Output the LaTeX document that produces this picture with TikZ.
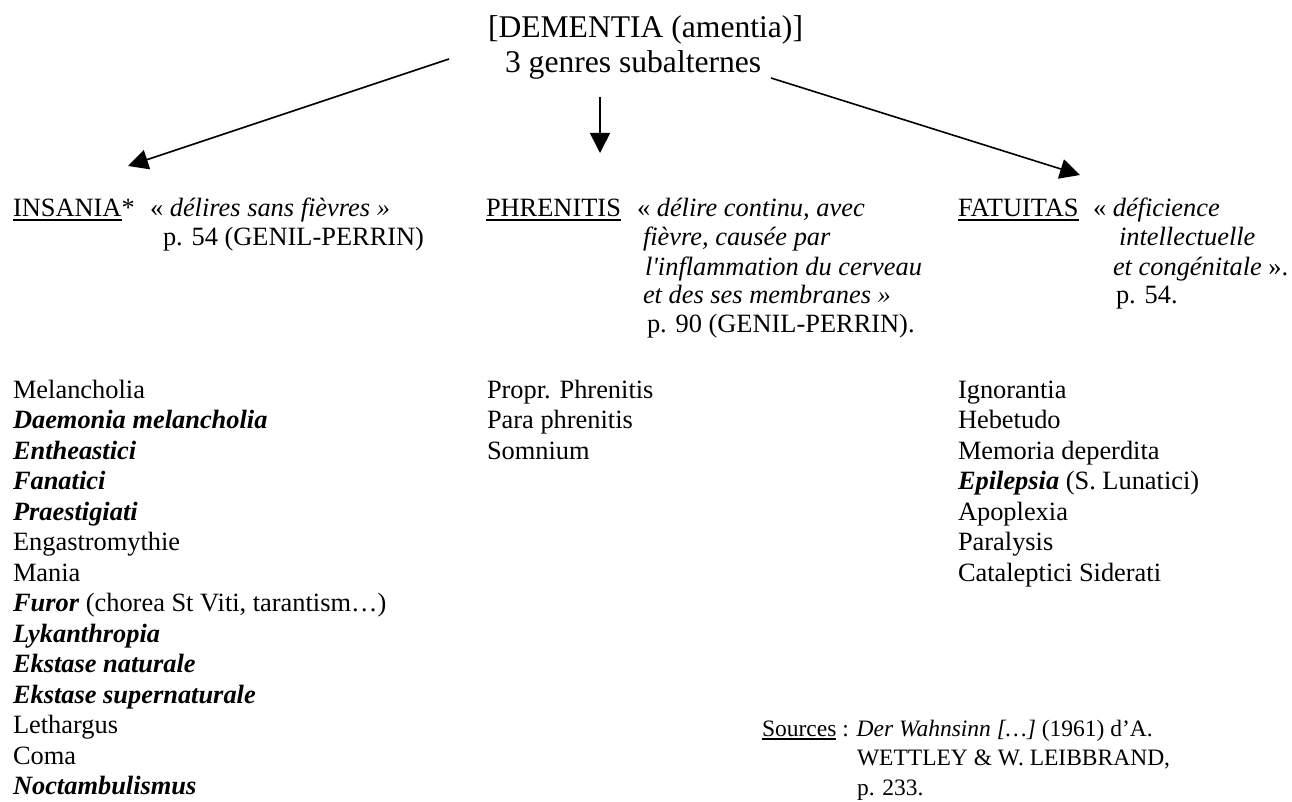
\documentclass[tikz,border=0pt]{standalone}
\usepackage{fontspec}
\setmainfont{Liberation Serif}
\newfontfamily\rawserif{Liberation Serif}[Ligatures=TeXOff]
\usetikzlibrary{arrows.meta}

% underlined word with a rule set just below the baseline
\newcommand\ulword[1]{\leavevmode\setbox0\hbox{#1}\rlap{\rule[-3.6pt]{\wd0}{1.6pt}}\box0\relax}
\newcommand\bfit[1]{\textbf{\textit{#1}}}
\newcommand\sq{{\rawserif\itshape'}}

\tikzset{
  txt/.style={anchor=base west, inner sep=0pt, outer sep=0pt, font=\fontsize{26.4}{30}\selectfont},
  big/.style={txt, font=\fontsize{31.6}{36}\selectfont},
  small/.style={txt, font=\fontsize{23.5}{28}\selectfont},
  arr/.style={-{Triangle[length=20pt,width=20pt]}, line width=1.6pt},
}

\begin{document}
\begin{tikzpicture}[x=1pt,y=-1pt]
\useasboundingbox (0,0) rectangle (1292,802);

% genus
\node[big] (title)  at (488,38) {[DEMENTIA (amentia)]};
\node[big] (genres) at (505,73) {3 genres subalternes};

% arrow end points
\coordinate (aL0) at (449,59);
\coordinate (aL1) at (128,166);
\coordinate (aM0) at (600,97);
\coordinate (aM1) at (600,153);
\coordinate (aR0) at (771,78);
\coordinate (aR1) at (1080,175);

\draw[arr] (aL0) -- (aL1);
\draw[arr] (aM0) -- (aM1);
\draw[arr] (aR0) -- (aR1);

% INSANIA
\node[txt] (insania) at (13,217)  {\ulword{INSANIA}*};
\node[txt] (insq)    at (150,217) {«~\textit{délires sans fièvres »}};
\node[txt] (insref)  at (163,246) {p. 54 (GENIL-PERRIN)};

% PHRENITIS
\node[txt] (phren) at (486,217) {\ulword{PHRENITIS}};
\node[txt] (phq1)  at (637,217) {«~\textit{délire continu, avec}};
\node[txt] (phq2)  at (643,246) {\textit{fièvre, causée par}};
\node[txt] (phq3)  at (645,275) {\textit{l\sq inflammation du cerveau}};
\node[txt] (phq4)  at (643,303) {\textit{et des ses membranes »}};
\node[txt] (phref) at (647,332) {p. 90 (GENIL-PERRIN).};

% FATUITAS
\node[txt] (fatu)  at (958,217)  {\ulword{FATUITAS}};
\node[txt] (faq1)  at (1093,217) {«~\textit{déficience}};
\node[txt] (faq2)  at (1119,246) {\textit{intellectuelle}};
\node[txt] (faq3)  at (1113,275) {\textit{et congénitale} ».};
\node[txt] (faref) at (1116,303) {p. 54.};

% species lists
\foreach \t [count=\i from 0] in {
  Melancholia,
  \bfit{Daemonia melancholia},
  \bfit{Entheastici},
  \bfit{Fanatici},
  \bfit{Praestigiati},
  Engastromythie,
  Mania,
  {\bfit{Furor} (chorea St Viti, tarantism…)},
  \bfit{Lykanthropia},
  \bfit{Ekstase naturale},
  \bfit{Ekstase supernaturale},
  Lethargus,
  Coma,
  \bfit{Noctambulismus}}
  \node[txt] (ins\i) at (13,{398+30.5*\i}) {\t};

\foreach \t [count=\i from 0] in {Propr. Phrenitis, Para phrenitis, Somnium}
  \node[txt] (phr\i) at (487,{398+30.5*\i}) {\t};

\foreach \t [count=\i from 0] in {
  Ignorantia,
  Hebetudo,
  Memoria deperdita,
  {\bfit{Epilepsia} (S. Lunatici)},
  Apoplexia,
  Paralysis,
  Cataleptici Siderati}
  \node[txt] (fat\i) at (958,{398+30.5*\i}) {\t};

% sources
\node[small] (src1) at (762,736) {\ulword{Sources} : \textit{Der Wahnsinn […]} (1961) d’A.};
\node[small] (src2) at (857,765) {WETTLEY \& W. LEIBBRAND,};
\node[small] (src3) at (857,795) {p. 233.};
\end{tikzpicture}
\end{document}
